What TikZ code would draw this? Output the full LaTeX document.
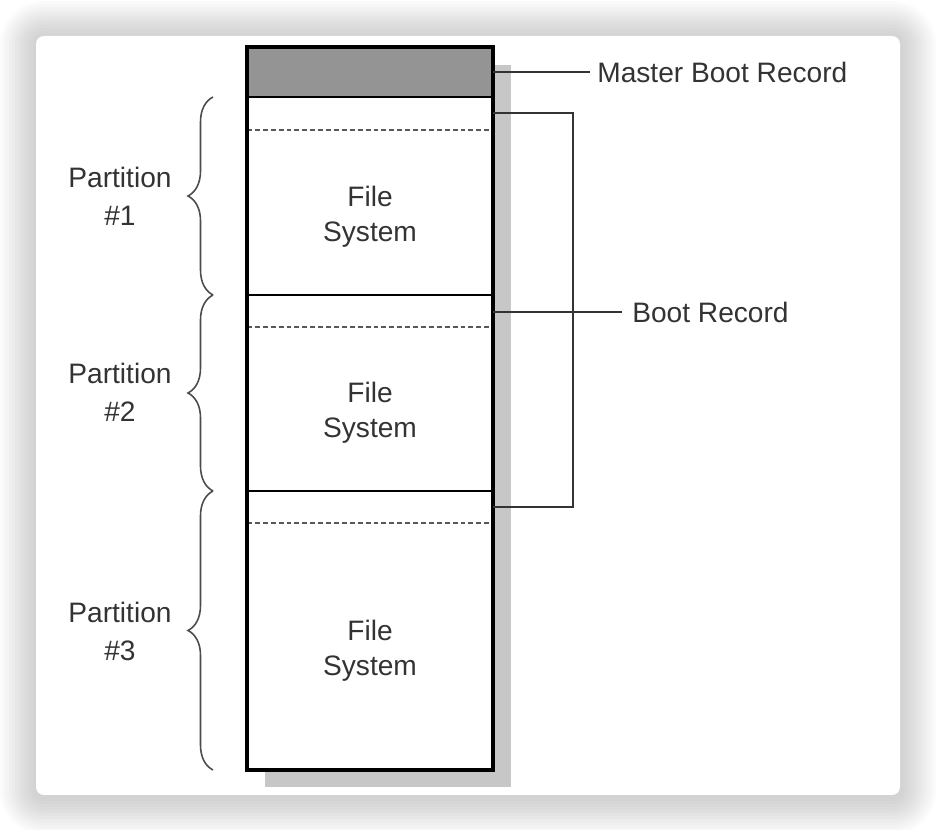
\documentclass[tikz,border=0pt]{standalone}
\usepackage{fontspec}
\setmainfont{Liberation Sans}
\usetikzlibrary{decorations.pathreplacing}

\begin{document}
\begin{tikzpicture}[
  lbl/.style={font=\fontsize{16}{20}\selectfont, text=black!80, align=center},
  plbl/.style={font=\fontsize{16}{21.6}\selectfont, text=black!80, align=center},
  part/.style={decorate, decoration={brace, amplitude=0.5cm}, draw=black!70, line width=0.9pt},
  lead/.style={draw=black!80, line width=0.9pt},
  sep/.style={line width=1.4pt},
  fsdash/.style={draw=black!65, line width=1pt, dash pattern=on 2.8pt off 1.7pt}
]
\useasboundingbox (0,0) rectangle (18.72,16.6);

% card with soft shadow
\foreach \i [evaluate=\i as \r using 0.16+0.06*\i] in {1,...,12}
  \fill[black, opacity=0.015, rounded corners=\r cm]
    (0.72-\i*0.06, 0.64-\i*0.06) rectangle (18.0+\i*0.06, 15.86+\i*0.06);
\fill[white, rounded corners=0.16cm] (0.72,0.70) rectangle (18.0,15.88);

% disk column
\fill[black!22] (5.3,0.86) rectangle (10.22,15.3);
\fill[white] (4.94,1.2) rectangle (9.86,15.66);
\fill[black!42] (4.94,14.66) rectangle (9.86,15.66);
\draw[sep] (4.94,14.66) -- (9.86,14.66);
\draw[sep] (4.94,10.70) -- (9.86,10.70);
\draw[sep] (4.94,6.78) -- (9.86,6.78);
\draw[fsdash] (4.94,14.0) -- (9.86,14.0);
\draw[fsdash] (4.94,10.06) -- (9.86,10.06);
\draw[fsdash] (4.94,6.14) -- (9.86,6.14);
\draw[line width=2pt] (4.94,1.2) rectangle (9.86,15.66);

\node[lbl] (fs1) at (7.4,12.26) {File\\System};
\node[lbl] (fs2) at (7.4,8.34) {File\\System};
\node[lbl] (fs3) at (7.4,3.59) {File\\System};

% partitions
\draw[part] (4.26,10.70) -- (4.26,14.66);
\draw[part] (4.26,6.78) -- (4.26,10.70);
\draw[part] (4.26,1.2) -- (4.26,6.78);
\node[plbl] (p1) at (2.4,12.68) {Partition\\\#1};
\node[plbl] (p2) at (2.4,8.76) {Partition\\\#2};
\node[plbl] (p3) at (2.4,3.98) {Partition\\\#3};

% master boot record
\coordinate (mbrin) at (9.86,15.16);
\node[lbl, anchor=west, inner sep=0.14cm] (mbr) at (11.8,15.16) {Master Boot Record};
\draw[lead] (mbrin) -- (mbr.west);

% boot records
\coordinate (br1) at (9.86,14.34);
\coordinate (br2) at (9.86,10.36);
\coordinate (br3) at (9.86,6.46);
\coordinate (brx) at (11.46,10.36);
\node[lbl, anchor=west, inner sep=0.2cm] (boot) at (12.44,10.36) {Boot Record};
\draw[lead] (br1) -| (brx) |- (br3);
\draw[lead] (br2) -- (boot.west);
\end{tikzpicture}
\end{document}
